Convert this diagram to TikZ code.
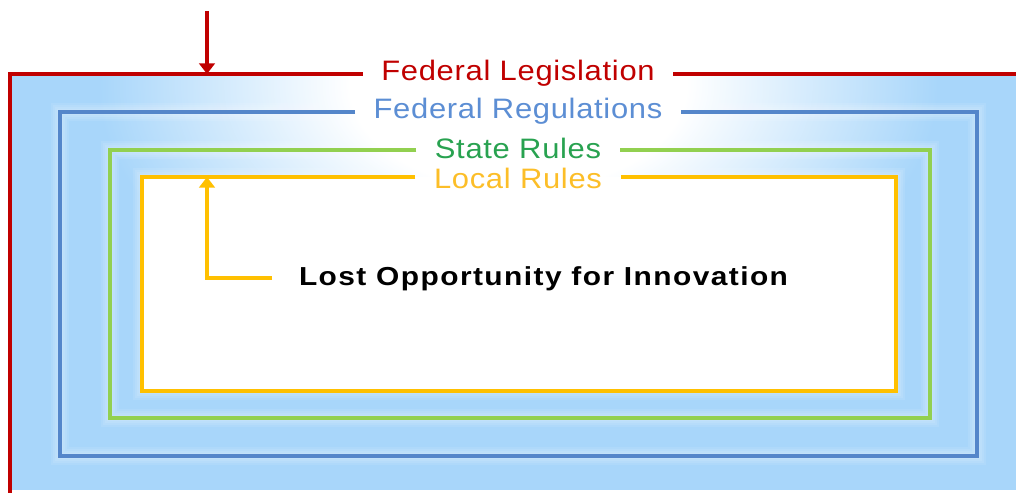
\documentclass[tikz,border=0pt]{standalone}
\usepackage{fontspec}
\setmainfont{Liberation Sans}
\newfontfamily\framefont[FakeStretch=1.1, LetterSpace=2.5]{Liberation Sans}
\newfontfamily\lostfont[FakeStretch=1.15, LetterSpace=5.5]{Liberation Sans}
\usetikzlibrary{arrows.meta}
\definecolor{legisred}{RGB}{192,0,0}
\definecolor{regblue}{RGB}{84,134,202}
\definecolor{regtext}{RGB}{92,142,212}
\definecolor{stateline}{RGB}{146,208,80}
\definecolor{statetext}{RGB}{40,162,80}
\definecolor{localline}{RGB}{255,192,0}
\definecolor{localtext}{RGB}{252,190,40}
\definecolor{skyfill}{RGB}{168,214,250}
\pgfdeclareradialshading{topglow}{\pgfpoint{0bp}{0bp}}{color(0bp)=(white); color(10bp)=(white); color(25bp)=(skyfill); color(50bp)=(skyfill)}
\begin{document}
\begin{tikzpicture}[x=0.025cm, y=-0.025cm,
    lbl/.style={font=\framefont\fontsize{20}{24}\selectfont, inner xsep=13pt, inner ysep=0pt, anchor=base},
    frame/.style={line width=#1, line cap=butt, line join=miter},
    halo/.style={draw=white, line width=#1, opacity=0.09},
    tip/.style={-{Triangle[width=11pt, length=7.5pt]}}
  ]
  \useasboundingbox (0,0) rectangle (1016,492);

  % frame corners
  \coordinate (red-tl) at (10,74);
  \coordinate (red-br) at (1016,490);
  \coordinate (blue-tl) at (60,112);
  \coordinate (blue-br) at (977,456);
  \coordinate (green-tl) at (110,150);
  \coordinate (green-br) at (930,418);
  \coordinate (yel-tl) at (142,177);
  \coordinate (yel-br) at (896,391);

  % sky background with the glow at the top
  \begin{scope}
    \clip (red-tl) rectangle (red-br);
    \fill[skyfill] (red-tl) rectangle (red-br);
    \shade[shading=topglow] (518,85) ellipse (10.5cm and 6.5cm);
    \foreach \c in {blue,green,yel}{
      \foreach \w in {13pt,10pt,7pt,4pt}
        \draw[halo=\w] (\c-tl) rectangle (\c-br);
    }
  \end{scope}
  \fill[white] (yel-tl) rectangle (yel-br);

  % labels
  \node[lbl, text=legisred] (legis) at (518,81) {Federal Legislation};
  \node[lbl, text=regtext] (regs) at (518,119) {Federal Regulations};
  \node[lbl, text=statetext] (state) at (518,158) {State Rules};
  \node[lbl, text=localtext] (local) at (518,188) {Local Rules};

  % frames
  \draw[frame=2.8pt, legisred] (legis.west |- red-tl) -- (red-tl) -- (10,500);
  \draw[frame=2.8pt, legisred] (legis.east |- red-tl) -- (1020,74);
  \draw[frame=2.4pt, regblue] (regs.west |- blue-tl) -- (blue-tl) |- (blue-br) |- (regs.east |- blue-tl);
  \draw[frame=2.2pt, stateline] (state.west |- green-tl) -- (green-tl) |- (green-br) |- (state.east |- green-tl);
  \draw[frame=2.2pt, localline] (local.west |- yel-tl) -- (yel-tl) |- (yel-br) |- (local.east |- yel-tl);

  % arrows
  \coordinate (push) at (207,11);
  \draw[tip, line width=2.2pt, legisred] (push) -- (push |- red-tl);

  \node[anchor=base west, font=\lostfont\bfseries\fontsize{18.5}{22}\selectfont,
        inner xsep=19pt, text height=12pt, text depth=2pt] (lost) at (272,285) {Lost Opportunity for Innovation};
  \draw[tip, line width=2.2pt, localline] (lost.west) -| (push |- yel-tl);

\end{tikzpicture}
\end{document}
